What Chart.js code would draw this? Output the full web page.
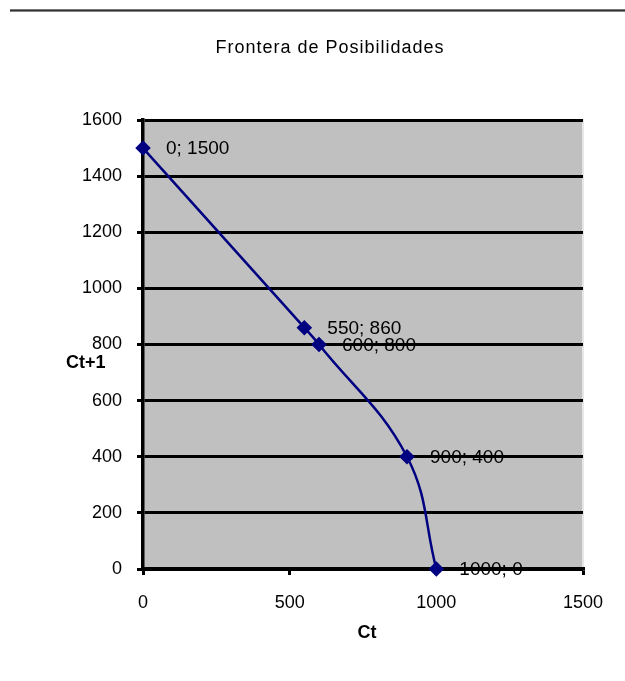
<!DOCTYPE html>
<html>
<head>
<meta charset="utf-8">
<script src="https://cdn.jsdelivr.net/npm/chart.js@4"></script>
<style>
    html, body { margin: 0; padding: 0; background: #fff; }
    #wrap { position: relative; width: 625px; height: 681px; }
    #rule { position: absolute; top: 9px; left: 10px; right: 0; height: 3px;
            background: linear-gradient(#999, #333 50%, #aaa); }
    canvas { position: absolute; top: 0; left: 0; }
</style>
</head>
<body>
<div id="wrap">
    <div id="rule"></div>
    <canvas id="ppfChart" width="625" height="681"></canvas>
</div>
<script>
// ================= DATA =================

const ctValues = [0, 550, 600, 900, 1000];
const ct1Values = [1500, 860, 800, 400, 0];
const xTicks = [0, 500, 1000, 1500];
const yTicks = [0, 200, 400, 600, 800, 1000, 1200, 1400, 1600];

const chartTitle = "Frontera de Posibilidades";
const xTitle = "Ct";
const yTitle = "Ct+1";

const points = ctValues.map((v, i) => ({ x: v, y: ct1Values[i] }));

const FONT = "'Liberation Sans', Arial, sans-serif";

// ================= PLUGIN: background, texts, labels =================

const extras = {
    id: "extras",
    beforeDraw(chart){
        const { ctx, chartArea: a } = chart;
        ctx.save();
        ctx.fillStyle = "#c0c0c0";
        ctx.fillRect(a.left, a.top, a.right - a.left, a.bottom - a.top);
        // light plot border on top and right
        ctx.strokeStyle = "#e6e6e6";
        ctx.lineWidth = 2;
        ctx.beginPath();
        ctx.moveTo(a.left, a.top);
        ctx.lineTo(a.right, a.top);
        ctx.lineTo(a.right, a.bottom);
        ctx.stroke();
        ctx.restore();
    },
    afterDraw(chart){
        const { ctx, chartArea: a } = chart;
        ctx.save();
        ctx.fillStyle = "#000";

        // title
        ctx.font = "18px " + FONT;
        ctx.textAlign = "center";
        ctx.textBaseline = "middle";
        ctx.letterSpacing = "1px";
        ctx.fillText(chartTitle, 330, 48);
        ctx.letterSpacing = "0px";

        // axis titles
        ctx.font = "bold 18px " + FONT;
        ctx.fillText(xTitle, (a.left + a.right) / 2 + 4, 633);
        ctx.textAlign = "left";
        ctx.fillText(yTitle, 66, 363);

        // data labels
        ctx.font = "19px " + FONT;
        const meta = chart.getDatasetMeta(0);
        meta.data.forEach((pt, i) => {
            ctx.fillText(ctValues[i] + "; " + ct1Values[i], pt.x + 23, pt.y + 1);
        });
        ctx.restore();
    }
};

// ================= CHART =================

new Chart(document.getElementById("ppfChart"), {
    type: "line",
    data: {
        datasets: [{
            data: points,
            borderColor: "#000080",
            backgroundColor: "#000080",
            borderWidth: 2.5,
            tension: 0.4,
            pointStyle: "rectRot",
            pointRadius: 6,
            pointHoverRadius: 6,
            clip: false,
            fill: false
        }]
    },
    options: {
        responsive: false,
        animation: false,
        layout: { padding: { top: 120, right: 42, left: 0, bottom: 0 } },
        plugins: {
            legend: { display: false },
            title: { display: false },
            tooltip: { enabled: false }
        },
        scales: {
            x: {
                type: "linear",
                min: xTicks[0],
                max: xTicks[xTicks.length - 1],
                afterFit(scale){ scale.height = 112; },
                afterBuildTicks(scale){ scale.ticks = xTicks.map(v => ({ value: v })); },
                grid: {
                    drawOnChartArea: false,
                    drawTicks: true,
                    tickLength: 6,
                    tickColor: "#000",
                    lineWidth: 3
                },
                border: { color: "#000", width: 3.5 },
                ticks: {
                    color: "#000",
                    padding: 17,
                    maxRotation: 0,
                    font: { family: FONT, size: 18 },
                    callback: v => String(v)
                }
            },
            y: {
                min: yTicks[0],
                max: yTicks[yTicks.length - 1],
                afterFit(scale){ scale.width = 143; },
                afterBuildTicks(scale){ scale.ticks = yTicks.map(v => ({ value: v })); },
                grid: {
                    color: "#000",
                    lineWidth: 3,
                    drawTicks: true,
                    tickLength: 6,
                    tickColor: "#000"
                },
                border: { color: "#000", width: 3.5 },
                ticks: {
                    color: "#000",
                    padding: 15,
                    font: { family: FONT, size: 18 },
                    callback: v => String(v)
                }
            }
        }
    },
    plugins: [extras]
});
</script>
</body>
</html>
